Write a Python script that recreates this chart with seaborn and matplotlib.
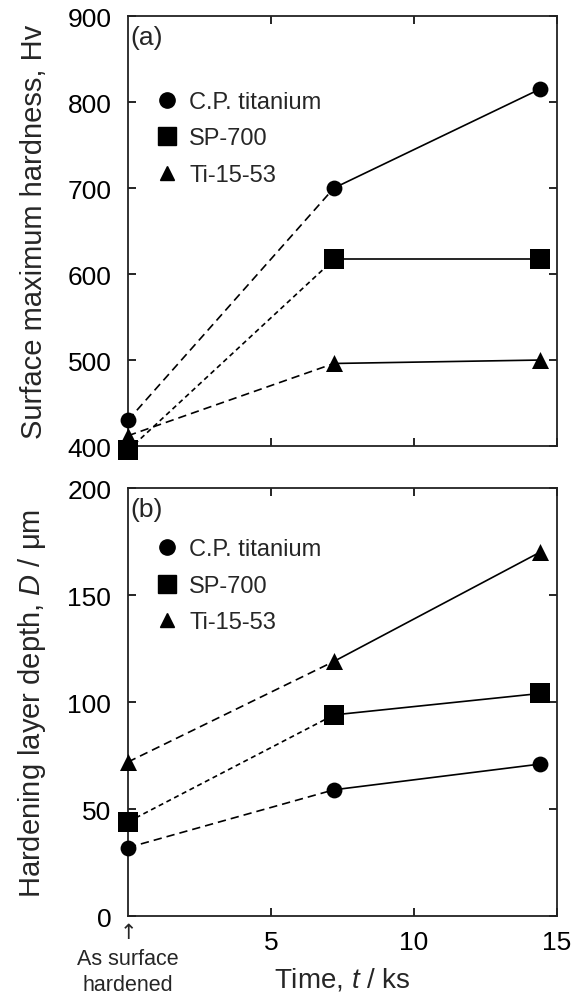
import matplotlib
matplotlib.use("Agg")
import matplotlib.pyplot as plt
import seaborn as sns
import pandas as pd
from matplotlib.lines import Line2D

sns.set_theme(style="ticks")
plt.rcParams['font.family'] = ['Liberation Sans', 'DejaVu Sans']
plt.rcParams['mathtext.fontset'] = 'custom'
plt.rcParams['mathtext.rm'] = 'Liberation Sans'
plt.rcParams['mathtext.it'] = 'Liberation Sans:italic'

# ---- data ----
alloys = ["C.P. titanium", "SP-700", "Ti-15-53"]
times = [0.0, 7.2, 14.4]
hardness_cp = [430, 700, 815]
hardness_sp = [395, 617, 617]
hardness_ti = [412, 496, 500]
depth_cp = [32, 59, 71]
depth_sp = [44, 94, 104]
depth_ti = [72, 119, 170]

markers = {"C.P. titanium": "o", "SP-700": "s", "Ti-15-53": "^"}
msizes = {"C.P. titanium": 130, "SP-700": 200, "Ti-15-53": 150}
dashes = {"C.P. titanium": (0, (5, 3)), "SP-700": (0, (3, 2.2)), "Ti-15-53": (0, (5, 3))}

fig = plt.figure(figsize=(5.8, 10.03), dpi=100)
ax1 = fig.add_axes([0.2207, 0.5543, 0.7397, 0.4287])
ax2 = fig.add_axes([0.2207, 0.0857, 0.7397, 0.4267])

def draw(ax, series):
    for name, vals in zip(alloys, series):
        df1 = pd.DataFrame({"t": times[:2], "v": vals[:2]})
        df2 = pd.DataFrame({"t": times[1:], "v": vals[1:]})
        sns.lineplot(data=df1, x="t", y="v", ax=ax, color="black", lw=1.2,
                     linestyle=dashes[name], legend=False)
        sns.lineplot(data=df2, x="t", y="v", ax=ax, color="black", lw=1.2,
                     linestyle="-", legend=False)
        dfm = pd.DataFrame({"t": times, "v": vals})
        sns.scatterplot(data=dfm, x="t", y="v", ax=ax, color="black",
                        marker=markers[name], s=msizes[name],
                        edgecolor="black", linewidth=0, legend=False, zorder=5)
    for coll in ax.collections:
        coll.set_clip_on(False)
    for ln in ax.lines:
        ln.set_clip_on(False)

draw(ax1, [hardness_cp, hardness_sp, hardness_ti])
draw(ax2, [depth_cp, depth_sp, depth_ti])

for ax in (ax1, ax2):
    ax.set_xlim(0, 15)
    ax.set_xticks([5, 10, 15])
    ax.tick_params(direction="in", top=True, right=True, length=6, width=1.2,
                   labelsize=19, colors="black")
    ax.tick_params(axis="y", pad=12)
    ax.tick_params(axis="x", pad=10)
    for sp in ax.spines.values():
        sp.set_linewidth(1.3)
        sp.set_color("#222222")
    ax.set_xlabel("")
    handles = [Line2D([], [], color="black", marker=markers[n], linestyle="none",
                      markersize={"C.P. titanium": 11, "SP-700": 13, "Ti-15-53": 10}[n])
               for n in alloys]
    ax.legend(handles, alloys, loc="upper left", frameon=False, fontsize=17,
              handletextpad=0.35, labelspacing=0.62, handlelength=1.2,
              borderaxespad=0)

ax1.set_ylim(400, 900)
ax1.set_yticks([400, 500, 600, 700, 800, 900])
ax1.tick_params(axis="x", labelbottom=False)
ax1.set_ylabel("Surface maximum hardness, Hv", fontsize=21, labelpad=14)
ax1.get_legend().set_bbox_to_anchor((0.035, 0.848))
ax1.text(0.006, 0.98, "(a)", transform=ax1.transAxes, fontsize=19, va="top", ha="left")

ax2.set_ylim(0, 200)
ax2.set_yticks([0, 50, 100, 150, 200])
ax2.set_ylabel(r"Hardening layer depth, $\mathit{D}$ / μm", fontsize=21, labelpad=14)
ax2.get_legend().set_bbox_to_anchor((0.035, 0.905))
ax2.text(0.006, 0.98, "(b)", transform=ax2.transAxes, fontsize=19, va="top", ha="left")
ax2.set_xlabel(r"Time, $\mathit{t}$ / ks", fontsize=20, labelpad=8)

ax2.annotate("↑", xy=(0, 0), xycoords=("data", "axes fraction"),
             xytext=(0, -4), textcoords="offset points", ha="center", va="top",
             fontsize=15, family=["DejaVu Sans"], annotation_clip=False)
ax2.annotate("As surface\nhardened", xy=(0, 0), xycoords=("data", "axes fraction"),
             xytext=(0, -23), textcoords="offset points", ha="center", va="top",
             fontsize=15.5, linespacing=1.3, annotation_clip=False)

fig.savefig("out.png", dpi=100)
